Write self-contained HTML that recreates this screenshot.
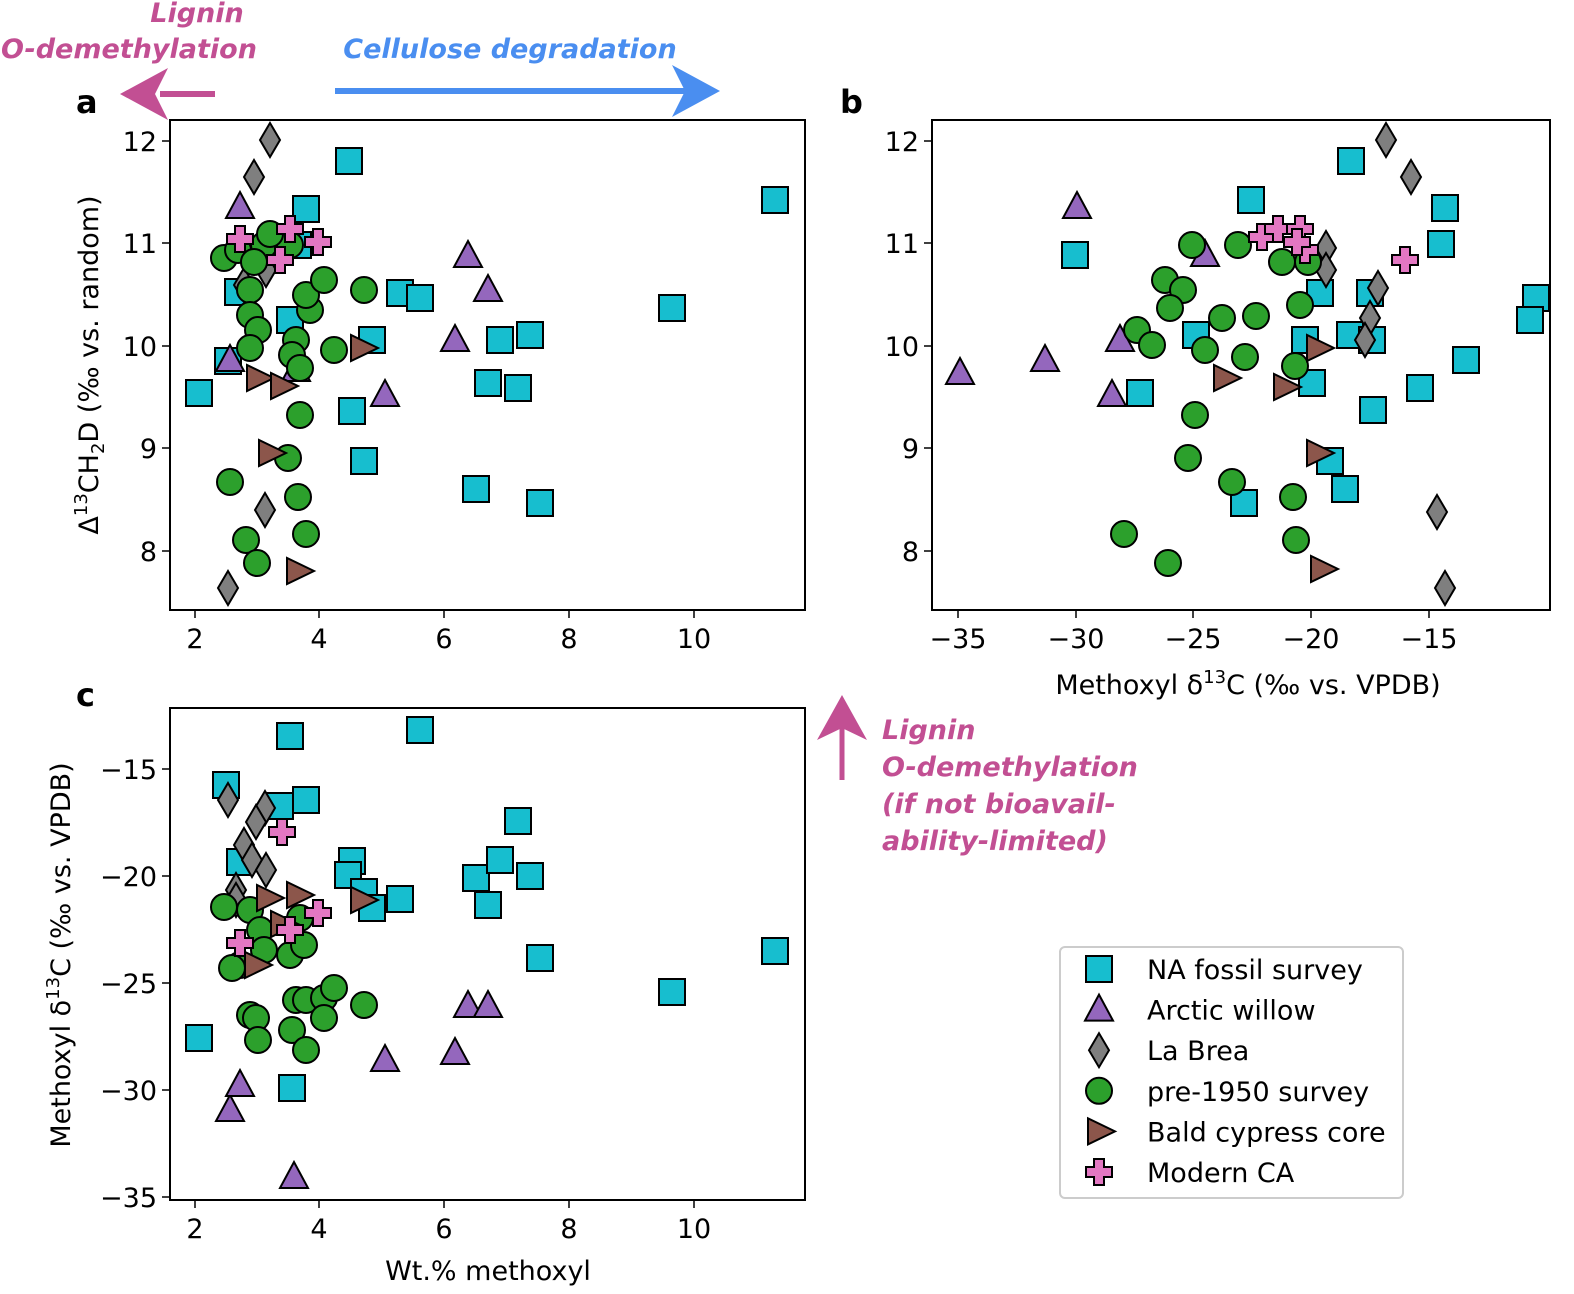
<!DOCTYPE html>
<html><head><meta charset="utf-8"><style>
body{margin:0;background:#fff}
svg text{font-family:"DejaVu Sans","Liberation Sans",sans-serif}
</style></head><body>
<svg id="s" xmlns="http://www.w3.org/2000/svg" width="1574" height="1289" viewBox="0 0 1574 1289">
<rect width="1574" height="1289" fill="#fff"/>
<g font-weight="bold" font-style="italic" font-size="27">
<text x="197" y="22" fill="#c24f93" text-anchor="middle">Lignin</text>
<text x="129" y="58" fill="#c24f93" text-anchor="middle">O-demethylation</text>
<text x="510" y="58" fill="#4a8ef0" text-anchor="middle">Cellulose degradation</text>
<text x="882" y="739" fill="#c24f93">Lignin</text>
<text x="882" y="776" fill="#c24f93">O-demethylation</text>
<text x="882" y="813" fill="#c24f93">(if not bioavail-</text>
<text x="882" y="850" fill="#c24f93">ability-limited)</text>
</g>
<line x1="215" y1="94" x2="160" y2="94" stroke="#c24f93" stroke-width="6"/>
<polygon points="120,94 168,68 155,94 168,120" fill="#c24f93"/>
<line x1="335" y1="91" x2="690" y2="91" stroke="#4a8ef0" stroke-width="6"/>
<polygon points="720,91 672,65 685,91 672,117" fill="#4a8ef0"/>
<line x1="842" y1="780" x2="842" y2="725" stroke="#c24f93" stroke-width="5"/>
<polygon points="842,695 817,740 842,728 867,740" fill="#c24f93"/>
<g font-weight="bold" font-size="32"><text x="76" y="113">a</text><text x="840" y="113">b</text><text x="76" y="706">c</text></g>
<g id="axes"></g>
<g id="pts"></g>
</svg>
<script>
const ns="http://www.w3.org/2000/svg",ax=document.getElementById('axes'),P=document.getElementById('pts');
function el(p,t,a,txt){const e=document.createElementNS(ns,t);for(const k in a)e.setAttribute(k,a[k]);if(txt!=null)e.textContent=txt;p.appendChild(e);return e;}
function axis(x0,y0,x1,y1,xt,yt){
 el(ax,'rect',{x:x0,y:y0,width:x1-x0,height:y1-y0,fill:'none',stroke:'#000','stroke-width':2});
 xt.forEach(([p,l])=>{el(ax,'line',{x1:p,y1:y1,x2:p,y2:y1+8,stroke:'#000','stroke-width':1.5});el(ax,'text',{x:p,y:y1+38,'font-size':27,'text-anchor':'middle'},l);});
 yt.forEach(([p,l])=>{el(ax,'line',{x1:x0,y1:p,x2:x0-8,y2:p,stroke:'#000','stroke-width':1.5});el(ax,'text',{x:x0-13,y:p+10,'font-size':27,'text-anchor':'end'},l);});
}
const m='\u2212';
axis(170,120,805,610,[[195,'2'],[319,'4'],[444,'6'],[569,'8'],[694,'10']],[[141,'12'],[243,'11'],[346,'10'],[448,'9'],[551,'8']]);
axis(932,120,1550,610,[[958,m+'35'],[1076,m+'30'],[1193,m+'25'],[1311,m+'20'],[1429,m+'15']],[[141,'12'],[243,'11'],[346,'10'],[448,'9'],[551,'8']]);
axis(170,708,805,1200,[[195,'2'],[319,'4'],[444,'6'],[569,'8'],[694,'10']],[[769,m+'15'],[876,m+'20'],[983,m+'25'],[1090,m+'30'],[1197,m+'35']]);
ax.insertAdjacentHTML('beforeend','<text x="1248" y="694" font-size="27" text-anchor="middle">Methoxyl δ<tspan font-size="18" dy="-11">13</tspan><tspan dy="11">C (‰ vs. VPDB)</tspan></text><text x="488" y="1280" font-size="27" text-anchor="middle">Wt.% methoxyl</text><text transform="translate(98,365) rotate(-90)" font-size="27" text-anchor="middle">Δ<tspan font-size="18" dy="-11">13</tspan><tspan dy="11">CH</tspan><tspan font-size="18" dy="6">2</tspan><tspan dy="-6">D (‰ vs. random)</tspan></text><text transform="translate(70,955) rotate(-90)" font-size="27" text-anchor="middle">Methoxyl δ<tspan font-size="18" dy="-11">13</tspan><tspan dy="11">C (‰ vs. VPDB)</tspan></text>');
const C={s:'#17becf',t:'#9467bd',d:'#7f7f7f',c:'#2ca02c',r:'#8c564b',p:'#e377c2'};
function mk(k,x,y){const a={fill:C[k],stroke:'#000','stroke-width':2};
 if(k=='s')el(P,'rect',Object.assign(a,{x:x-13,y:y-13,width:26,height:26}));
 else if(k=='c')el(P,'circle',Object.assign(a,{cx:x,cy:y,r:13}));
 else if(k=='t')el(P,'polygon',Object.assign(a,{points:`${x},${y-15} ${x+14},${y+11} ${x-14},${y+11}`}));
 else if(k=='d')el(P,'polygon',Object.assign(a,{points:`${x},${y-17} ${x+10},${y} ${x},${y+17} ${x-10},${y}`}));
 else if(k=='r')el(P,'polygon',Object.assign(a,{points:`${x+16},${y} ${x-11},${y-13} ${x-11},${y+13}`}));
 else if(k=='p'){const w=5,L=13;el(P,'polygon',Object.assign(a,{points:`${x-w},${y-L} ${x+w},${y-L} ${x+w},${y-w} ${x+L},${y-w} ${x+L},${y+w} ${x+w},${y+w} ${x+w},${y+L} ${x-w},${y+L} ${x-w},${y+w} ${x-L},${y+w} ${x-L},${y-w} ${x-w},${y-w}`}));}
}
const D={
s:[[199,393],[228,361],[238,292],[290,320],[400,293],[420,298],[372,340],[500,340],[530,335],[672,308],[488,383],[518,388],[352,411],[364,461],[476,489],[540,503],[306,209],[349,161],[775,200],[298,245],
[1351,161],[1251,200],[1075,255],[1445,208],[1441,244],[1536,298],[1530,320],[1320,293],[1370,293],[1350,335],[1372,340],[1466,360],[1420,388],[1312,383],[1305,340],[1196,335],[1140,393],[1373,410],[1330,461],[1345,489],[1244,503],
[199,1038],[226,785],[290,736],[420,730],[280,806],[306,800],[240,862],[352,861],[348,875],[364,892],[372,908],[400,899],[476,878],[488,905],[500,860],[518,821],[530,876],[540,958],[672,992],[775,951],[292,1088]],
t:[[240,207],[230,360],[468,256],[488,290],[455,340],[385,395],[296,370],[1077,207],[960,373],[1045,360],[1120,340],[1112,395],[1205,255],
[230,1110],[240,1085],[294,1177],[385,1060],[455,1053],[468,1006],[488,1006]],
d:[[270,140],[254,177],[266,270],[244,285],[265,510],[228,588],[1386,140],[1411,177],[1326,248],[1326,270],[1378,288],[1370,318],[1365,340],[1437,512],[1445,588],
[228,800],[265,808],[256,822],[244,845],[252,860],[266,870],[236,890],[236,900]],
c:[[224,258],[238,250],[264,245],[254,262],[250,290],[250,315],[258,330],[250,348],[296,340],[310,310],[306,295],[324,280],[364,290],[334,350],[292,355],[300,368],[300,415],[288,458],[298,497],[306,534],[230,482],[246,540],[257,563],[290,245],[270,234],
[1192,245],[1238,245],[1282,262],[1308,262],[1165,280],[1183,290],[1170,308],[1137,330],[1152,345],[1205,350],[1222,318],[1256,316],[1245,357],[1300,305],[1295,366],[1195,415],[1188,458],[1232,482],[1293,497],[1296,540],[1124,534],[1168,563],
[224,907],[250,910],[260,930],[264,950],[240,965],[232,968],[250,1015],[256,1018],[258,1040],[296,1000],[306,1000],[324,998],[334,988],[364,1005],[324,1018],[292,1030],[306,1050],[290,955],[304,945],[300,918]],
r:[[258,378],[282,386],[270,453],[362,348],[298,571],[1225,378],[1285,387],[1318,348],[1318,453],[1322,569],[268,898],[298,895],[362,900],[282,924],[256,965]],
p:[[240,239],[290,229],[280,260],[318,242],[1262,237],[1278,229],[1300,229],[1305,250],[1297,242],[1405,260],[282,832],[240,943],[290,930],[318,913]]};
for(const k in D)D[k].forEach(([x,y])=>mk(k,x,y));
el(P,'rect',{x:1060,y:947,width:343,height:251,rx:5,fill:'#fff',stroke:'#ccc','stroke-width':2});
[['s','NA fossil survey'],['t','Arctic willow'],['d','La Brea'],['c','pre-1950 survey'],['r','Bald cypress core'],['p','Modern CA']].forEach(([k,l],i)=>{const y=969+i*40.6;mk(k,1099,y);el(P,'text',{x:1147,y:y+10,'font-size':27},l);});
</script>
</body></html>
